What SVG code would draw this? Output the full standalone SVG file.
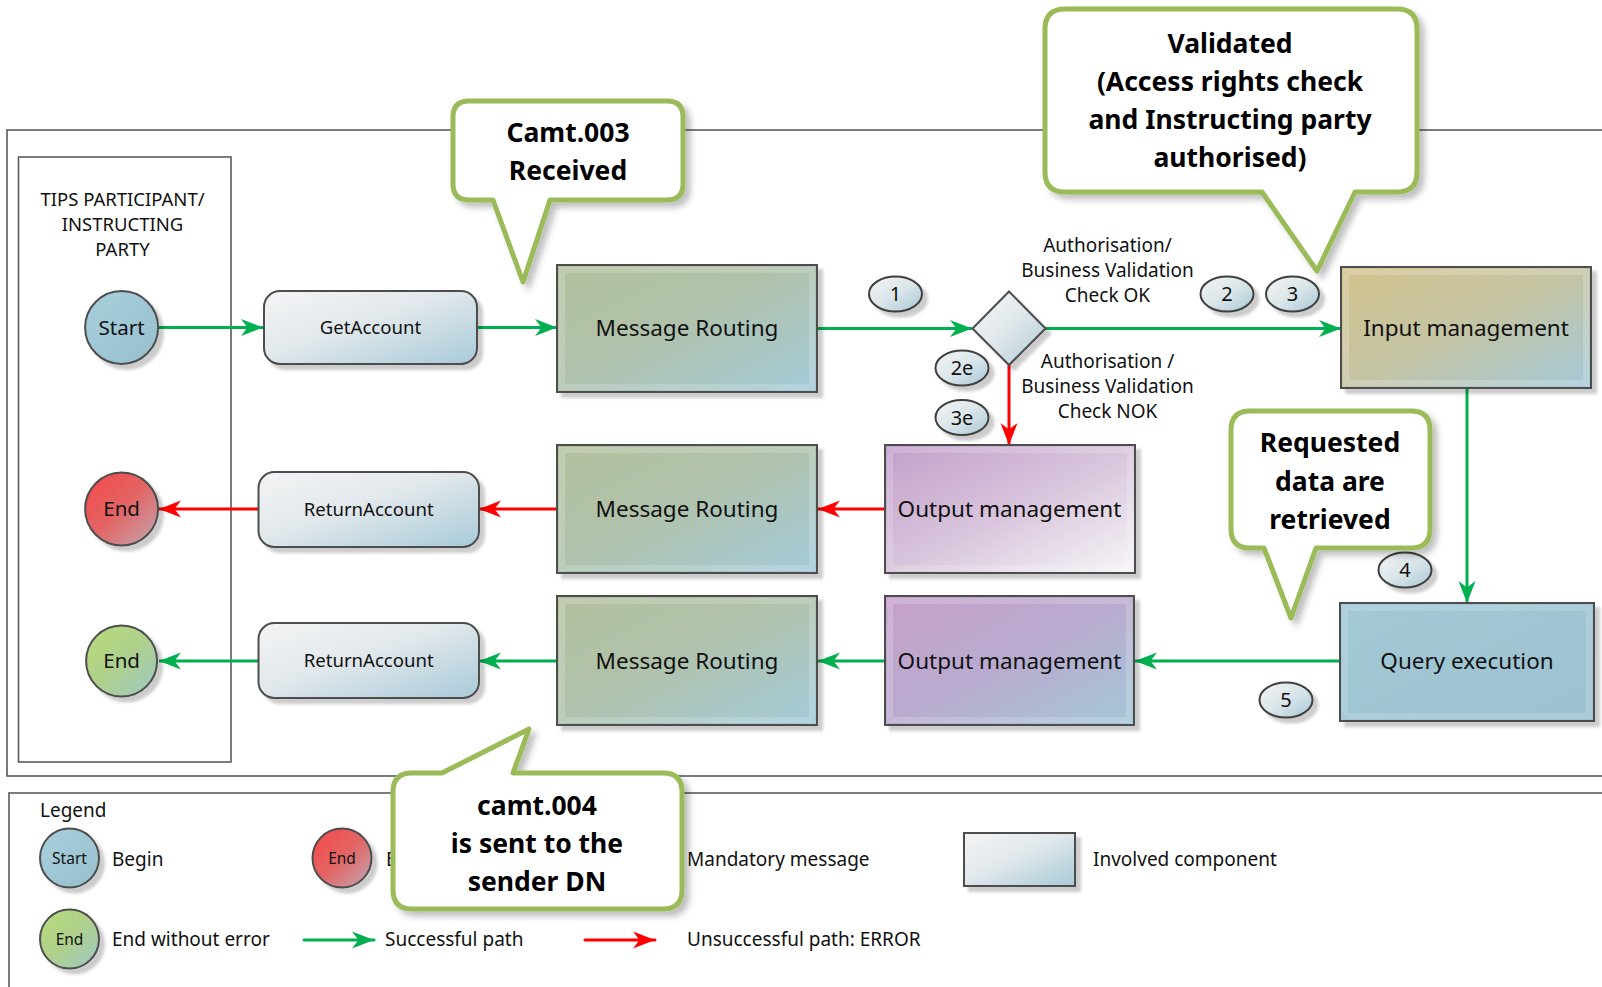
<svg xmlns="http://www.w3.org/2000/svg" width="1602" height="987" viewBox="0 0 1602 987">
<defs>
<style>
text{font-family:"Noto Sans","Liberation Sans",sans-serif;fill:#111}
.frame{fill:none;stroke:#5a5a5a;stroke-width:1.6}
.box{stroke:#4d4d4d;stroke-width:2}
.lbl{font-size:22.5px;text-anchor:middle}
.sm{font-size:18.6px;text-anchor:middle}
.lane{font-size:18.5px;text-anchor:middle}
.cond{font-size:19px;text-anchor:middle}
.bn{font-size:20px;text-anchor:middle}
.leg{font-size:19px}
.co{fill:#fff;stroke:#9bbb59;stroke-width:5;stroke-linejoin:round}
.cot{font-size:26.5px;font-weight:bold;text-anchor:middle;fill:#000}
.g{fill:none;stroke:#00b050;stroke-width:3}
.r{fill:none;stroke:#ff0000;stroke-width:3}
.badge{fill:url(#gBadge);stroke:#3f3f3f;stroke-width:2}
</style>
<filter id="sh" x="-10%" y="-10%" width="130%" height="130%">
<feDropShadow dx="5" dy="5" stdDeviation="1.5" flood-color="#000" flood-opacity="0.2"/>
</filter>
<filter id="shc" x="-10%" y="-10%" width="130%" height="130%">
<feDropShadow dx="5" dy="5" stdDeviation="3" flood-color="#000" flood-opacity="0.25"/>
</filter>
<marker id="ag" markerUnits="userSpaceOnUse" markerWidth="22" markerHeight="18" refX="22" refY="9" orient="auto">
<path d="M0,0.5 L22,9 L0,17.5 L6.5,9 Z" fill="#00b050"/>
</marker>
<marker id="ar" markerUnits="userSpaceOnUse" markerWidth="22" markerHeight="18" refX="22" refY="9" orient="auto">
<path d="M0,0.5 L22,9 L0,17.5 L6.5,9 Z" fill="#ff0000"/>
</marker>
<linearGradient id="gMR" x1="0" y1="0" x2="1" y2="1"><stop offset="0" stop-color="#b3c09d"/><stop offset="0.45" stop-color="#b0c2ab"/><stop offset="1" stop-color="#a4cad9"/></linearGradient>
<linearGradient id="gOM1" x1="0" y1="0" x2="1" y2="1"><stop offset="0" stop-color="#c39fcb"/><stop offset="0.5" stop-color="#d8c4dc"/><stop offset="1" stop-color="#f6f6f7"/></linearGradient>
<linearGradient id="gOM2" x1="0" y1="0" x2="1" y2="1"><stop offset="0" stop-color="#c6a0cb"/><stop offset="0.5" stop-color="#b9abcf"/><stop offset="1" stop-color="#a5c8d7"/></linearGradient>
<linearGradient id="gIM" x1="0" y1="0" x2="1" y2="1"><stop offset="0" stop-color="#d2c28c"/><stop offset="0.5" stop-color="#c4c4a4"/><stop offset="1" stop-color="#a4c9d9"/></linearGradient>
<linearGradient id="gQE" x1="0" y1="0" x2="1" y2="1"><stop offset="0" stop-color="#a3c9d7"/><stop offset="1" stop-color="#9cc2d1"/></linearGradient>
<linearGradient id="gComp" x1="0" y1="0" x2="1" y2="1"><stop offset="0" stop-color="#f4f4f4"/><stop offset="0.45" stop-color="#e1e8ec"/><stop offset="1" stop-color="#a8cad8"/></linearGradient>
<linearGradient id="gStart" x1="0" y1="0" x2="1" y2="1"><stop offset="0" stop-color="#a9cfdc"/><stop offset="1" stop-color="#96bfce"/></linearGradient>
<linearGradient id="gEndR" x1="0" y1="0" x2="1" y2="1"><stop offset="0" stop-color="#f84646"/><stop offset="0.5" stop-color="#e26565"/><stop offset="1" stop-color="#c2a9b4"/></linearGradient>
<linearGradient id="gEndG" x1="0" y1="0" x2="1" y2="1"><stop offset="0" stop-color="#b8dc78"/><stop offset="0.5" stop-color="#aed08c"/><stop offset="1" stop-color="#a0c8c6"/></linearGradient>
<linearGradient id="gBadge" x1="0" y1="0" x2="1" y2="1"><stop offset="0" stop-color="#f3f3f3"/><stop offset="0.5" stop-color="#dbe6ea"/><stop offset="1" stop-color="#a6c8d4"/></linearGradient>
<linearGradient id="gDia" x1="0" y1="0" x2="1" y2="1"><stop offset="0" stop-color="#f7f7f7"/><stop offset="0.5" stop-color="#dfe7ea"/><stop offset="1" stop-color="#aecbd6"/></linearGradient>
</defs>

<rect width="1602" height="987" fill="#fff"/>

<g id="frames">
<rect class="frame" x="7" y="130" width="1620" height="646"/>
<rect class="frame" x="18.5" y="157" width="212.5" height="605"/>
<rect class="frame" x="9" y="793" width="1620" height="220"/>
</g>

<g id="lane-label">
<text class="lane" x="122.5" y="205.5">TIPS PARTICIPANT/</text>
<text class="lane" x="122.5" y="231">INSTRUCTING</text>
<text class="lane" x="122.5" y="256">PARTY</text>
</g>

<g id="connectors">
<path class="g" d="M159,327.5 H263" marker-end="url(#ag)"/>
<path class="g" d="M477,327.5 H557" marker-end="url(#ag)"/>
<path class="g" d="M817,328.5 H972" marker-end="url(#ag)"/>
<path class="g" d="M1045,328.5 H1341" marker-end="url(#ag)"/>
<path class="g" d="M1467,388 V603" marker-end="url(#ag)"/>
<path class="g" d="M1340,661 H1135" marker-end="url(#ag)"/>
<path class="g" d="M885,661 H818" marker-end="url(#ag)"/>
<path class="g" d="M557,661 H479" marker-end="url(#ag)"/>
<path class="g" d="M259,661 H159" marker-end="url(#ag)"/>
<path class="r" d="M1009,365 V445" marker-end="url(#ar)"/>
<path class="r" d="M885,509 H818" marker-end="url(#ar)"/>
<path class="r" d="M557,509 H479" marker-end="url(#ar)"/>
<path class="r" d="M259,509 H159" marker-end="url(#ar)"/>
</g>

<g id="start">
<circle cx="121.6" cy="327.5" r="36.5" fill="url(#gStart)" class="box" filter="url(#sh)"/>
<text x="121.6" y="334.5" font-size="20.5" text-anchor="middle">Start</text>
</g>
<g id="end-error">
<circle cx="121.6" cy="509" r="36.5" fill="url(#gEndR)" class="box" filter="url(#sh)"/>
<text x="121.6" y="516" font-size="20.5" text-anchor="middle">End</text>
</g>
<g id="end-ok">
<circle cx="121.6" cy="661" r="35.5" fill="url(#gEndG)" class="box" filter="url(#sh)"/>
<text x="121.6" y="668" font-size="20.5" text-anchor="middle">End</text>
</g>

<g id="getaccount">
<rect x="264" y="291" width="213" height="73" rx="16" fill="url(#gComp)" class="box" filter="url(#sh)"/>
<text class="sm" x="370.5" y="334">GetAccount</text>
</g>
<g id="returnaccount1">
<rect x="258.5" y="472" width="220.5" height="75" rx="16" fill="url(#gComp)" class="box" filter="url(#sh)"/>
<text class="sm" x="368.7" y="515.5">ReturnAccount</text>
</g>
<g id="returnaccount2">
<rect x="258.5" y="623" width="220.5" height="75" rx="16" fill="url(#gComp)" class="box" filter="url(#sh)"/>
<text class="sm" x="368.7" y="667">ReturnAccount</text>
</g>

<g id="msgrouting1">
<rect x="557" y="265" width="260" height="127" fill="url(#gMR)" class="box" filter="url(#sh)"/>
<rect x="562" y="270" width="250" height="117" fill="none" stroke="#fff" stroke-opacity="0.18" stroke-width="6"/>
<text class="lbl" x="687" y="336">Message Routing</text>
</g>
<g id="msgrouting2">
<rect x="557" y="445" width="260" height="128" fill="url(#gMR)" class="box" filter="url(#sh)"/>
<rect x="562" y="450" width="250" height="118" fill="none" stroke="#fff" stroke-opacity="0.18" stroke-width="6"/>
<text class="lbl" x="687" y="517">Message Routing</text>
</g>
<g id="msgrouting3">
<rect x="557" y="596" width="260" height="129" fill="url(#gMR)" class="box" filter="url(#sh)"/>
<rect x="562" y="601" width="250" height="119" fill="none" stroke="#fff" stroke-opacity="0.18" stroke-width="6"/>
<text class="lbl" x="687" y="669">Message Routing</text>
</g>

<g id="decision">
<path d="M1009,291.5 L1045.5,328.5 L1009,365 L972.5,328.5 Z" fill="url(#gDia)" class="box" filter="url(#sh)"/>
</g>

<g id="outputmgmt1">
<rect x="885" y="445" width="250" height="128" fill="url(#gOM1)" class="box" filter="url(#sh)"/>
<rect x="890" y="450" width="240" height="118" fill="none" stroke="#fff" stroke-opacity="0.18" stroke-width="6"/>
<text class="lbl" x="1009.5" y="517">Output management</text>
</g>
<g id="outputmgmt2">
<rect x="885" y="596" width="249" height="129" fill="url(#gOM2)" class="box" filter="url(#sh)"/>
<rect x="890" y="601" width="239" height="119" fill="none" stroke="#fff" stroke-opacity="0.18" stroke-width="6"/>
<text class="lbl" x="1009.5" y="669">Output management</text>
</g>
<g id="inputmgmt">
<rect x="1341" y="267" width="250" height="121" fill="url(#gIM)" class="box" filter="url(#sh)"/>
<rect x="1346" y="272" width="240" height="111" fill="none" stroke="#fff" stroke-opacity="0.2" stroke-width="6"/>
<text class="lbl" x="1466" y="336">Input management</text>
</g>
<g id="queryexec">
<rect x="1340" y="603" width="254" height="118" fill="url(#gQE)" class="box" filter="url(#sh)"/>
<rect x="1345" y="608" width="244" height="108" fill="none" stroke="#fff" stroke-opacity="0.15" stroke-width="6"/>
<text class="lbl" x="1467" y="669">Query execution</text>
</g>

<g id="badges">
<ellipse class="badge" cx="895.5" cy="294" rx="26.5" ry="17.5" filter="url(#sh)"/>
<text class="bn" x="895.5" y="301">1</text>
<ellipse class="badge" cx="962" cy="368" rx="26.5" ry="17.5" filter="url(#sh)"/>
<text class="bn" x="962" y="375">2e</text>
<ellipse class="badge" cx="962" cy="417.5" rx="26.5" ry="17.5" filter="url(#sh)"/>
<text class="bn" x="962" y="424.5">3e</text>
<ellipse class="badge" cx="1227" cy="294" rx="26.5" ry="17.5" filter="url(#sh)"/>
<text class="bn" x="1227" y="301">2</text>
<ellipse class="badge" cx="1292.5" cy="294" rx="26.5" ry="17.5" filter="url(#sh)"/>
<text class="bn" x="1292.5" y="301">3</text>
<ellipse class="badge" cx="1405" cy="570" rx="26.5" ry="17.5" filter="url(#sh)"/>
<text class="bn" x="1405" y="577">4</text>
<ellipse class="badge" cx="1286" cy="700" rx="26.5" ry="17.5" filter="url(#sh)"/>
<text class="bn" x="1286" y="707">5</text>
</g>

<g id="conditions">
<text class="cond" x="1107.5" y="252">Authorisation/</text>
<text class="cond" x="1107.5" y="277">Business Validation</text>
<text class="cond" x="1107.5" y="302">Check OK</text>
<text class="cond" x="1107.5" y="367.5">Authorisation /</text>
<text class="cond" x="1107.5" y="392.5">Business Validation</text>
<text class="cond" x="1107.5" y="417.5">Check NOK</text>
</g>

<g id="legend">
<text class="leg" x="40" y="817">Legend</text>
<circle cx="69.5" cy="858" r="29.5" fill="url(#gStart)" class="box" filter="url(#sh)"/>
<text x="69.5" y="863.5" font-size="15.5" text-anchor="middle">Start</text>
<text class="leg" x="112" y="866">Begin</text>
<circle cx="342" cy="858" r="29.5" fill="url(#gEndR)" class="box" filter="url(#sh)"/>
<text x="342" y="863.5" font-size="15.5" text-anchor="middle">End</text>
<text class="leg" x="386" y="866">E</text>
<text class="leg" x="687" y="866">Mandatory message</text>
<rect x="964" y="833" width="111" height="53" fill="url(#gComp)" class="box" filter="url(#sh)"/>
<text class="leg" x="1093" y="866">Involved component</text>
<circle cx="69.5" cy="939" r="29.5" fill="url(#gEndG)" class="box" filter="url(#sh)"/>
<text x="69.5" y="944.5" font-size="15.5" text-anchor="middle">End</text>
<text class="leg" x="112" y="946">End without error</text>
<path class="g" d="M304,940 H374" stroke-linecap="round" marker-end="url(#ag)"/>
<text class="leg" x="385" y="946">Successful path</text>
<path class="r" d="M585,940 H655" stroke-linecap="round" marker-end="url(#ar)"/>
<text class="leg" x="687" y="946">Unsuccessful path: ERROR</text>
</g>

<g id="callout-camt003">
<path class="co" filter="url(#shc)" d="M469,101 H667 Q683,101 683,117 V184 Q683,200 667,200 H550 L523,282 L493,200 H469 Q453,200 453,184 V117 Q453,101 469,101 Z"/>
<text class="cot" x="568" y="142">Camt.003</text>
<text class="cot" x="568" y="180">Received</text>
</g>
<g id="callout-validated">
<path class="co" filter="url(#shc)" d="M1065,9 H1397 Q1417,9 1417,29 V172 Q1417,192 1397,192 H1355 L1317,271 L1262,192 H1065 Q1045,192 1045,172 V29 Q1045,9 1065,9 Z"/>
<text class="cot" x="1230" y="53">Validated</text>
<text class="cot" x="1230" y="91">(Access rights check</text>
<text class="cot" x="1230" y="129">and Instructing party</text>
<text class="cot" x="1230" y="167">authorised)</text>
</g>
<g id="callout-requested">
<path class="co" filter="url(#shc)" d="M1250,411 H1411 Q1430,411 1430,430 V529 Q1430,548 1411,548 H1316 L1291,618 L1264,548 H1250 Q1231,548 1231,529 V430 Q1231,411 1250,411 Z"/>
<text class="cot" x="1330" y="452">Requested</text>
<text class="cot" x="1330" y="491">data are</text>
<text class="cot" x="1330" y="529">retrieved</text>
</g>
<g id="callout-camt004">
<path class="co" filter="url(#shc)" d="M412,773 H442 L529,729 L513,773 H663 Q682,773 682,792 V890 Q682,909 663,909 H412 Q393,909 393,890 V792 Q393,773 412,773 Z"/>
<text class="cot" x="537" y="815">camt.004</text>
<text class="cot" x="537" y="853">is sent to the</text>
<text class="cot" x="537" y="891">sender DN</text>
</g>
</svg>
